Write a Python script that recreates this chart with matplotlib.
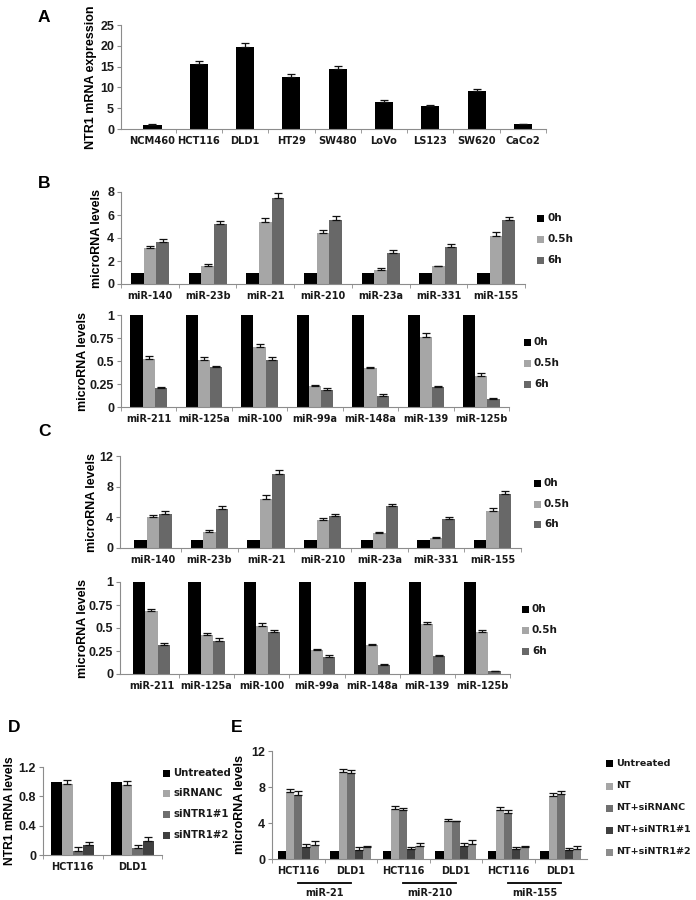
import numpy as np
import matplotlib.pyplot as plt
from matplotlib.patches import Rectangle

plt.rcParams['font.family'] = ['DejaVu Sans']
plt.rcParams['font.weight'] = 'bold'

# ---- data ----
cell_lines = ['NCM460', 'HCT116', 'DLD1', 'HT29', 'SW480', 'LoVo', 'LS123', 'SW620', 'CaCo2']
ntr1_expr = [1.0, 15.7, 19.6, 12.6, 14.5, 6.4, 5.5, 9.2, 1.1]
ntr1_err = [0.2, 0.7, 1.0, 0.7, 0.7, 0.5, 0.2, 0.4, 0.2]

time_labels = ['0h', '0.5h', '6h']
up_mirs = ['miR-140', 'miR-23b', 'miR-21', 'miR-210', 'miR-23a', 'miR-331', 'miR-155']
down_mirs = ['miR-211', 'miR-125a', 'miR-100', 'miR-99a', 'miR-148a', 'miR-139', 'miR-125b']

b_up_05 = [3.1, 1.6, 5.4, 4.45, 1.2, 1.55, 4.2]
b_up_6 = [3.65, 5.25, 7.5, 5.55, 2.7, 3.2, 5.55]
b_up_05_err = [0.2, 0.15, 0.35, 0.25, 0.15, 0.05, 0.3]
b_up_6_err = [0.25, 0.25, 0.4, 0.35, 0.25, 0.25, 0.3]

b_dn_05 = [0.52, 0.51, 0.65, 0.23, 0.42, 0.76, 0.34]
b_dn_6 = [0.21, 0.43, 0.51, 0.19, 0.12, 0.22, 0.09]
b_dn_05_err = [0.03, 0.03, 0.04, 0.01, 0.02, 0.04, 0.03]
b_dn_6_err = [0.01, 0.02, 0.03, 0.02, 0.02, 0.01, 0.01]

c_up_05 = [4.05, 2.15, 6.45, 3.7, 1.9, 1.3, 4.85]
c_up_6 = [4.45, 5.1, 9.7, 4.15, 5.45, 3.8, 7.1]
c_up_05_err = [0.25, 0.15, 0.4, 0.25, 0.25, 0.1, 0.4]
c_up_6_err = [0.35, 0.35, 0.45, 0.25, 0.25, 0.2, 0.35]

c_dn_05 = [0.68, 0.42, 0.52, 0.26, 0.31, 0.54, 0.46]
c_dn_6 = [0.32, 0.36, 0.46, 0.19, 0.10, 0.20, 0.03]
c_dn_05_err = [0.03, 0.03, 0.03, 0.01, 0.02, 0.02, 0.02]
c_dn_6_err = [0.02, 0.03, 0.02, 0.02, 0.005, 0.01, 0.005]

d_lines = ['HCT116', 'DLD1']
d_labels = ['Untreated', 'siRNANC', 'siNTR1#1', 'siNTR1#2']
d_vals = [[1.0, 1.0], [0.97, 0.96], [0.06, 0.10], [0.14, 0.19]]
d_err = [[0.0, 0.0], [0.05, 0.05], [0.05, 0.04], [0.04, 0.05]]

e_cats = ['HCT116', 'DLD1', 'HCT116', 'DLD1', 'HCT116', 'DLD1']
e_groups = ['miR-21', 'miR-210', 'miR-155']
e_labels = ['Untreated', 'NT', 'NT+siRNANC', 'NT+siNTR1#1', 'NT+siNTR1#2']
e_vals = [[0.9, 0.9, 0.9, 0.9, 0.9, 0.9],
          [7.5, 9.7, 5.6, 4.2, 5.5, 7.05],
          [7.15, 9.55, 5.4, 4.2, 5.15, 7.2],
          [1.35, 1.0, 1.15, 1.45, 1.1, 1.0],
          [1.6, 1.3, 1.4, 1.7, 1.3, 1.15]]
e_err = [[0, 0, 0, 0, 0, 0],
         [0.3, 0.35, 0.3, 0.2, 0.3, 0.3],
         [0.4, 0.35, 0.25, 0.05, 0.25, 0.4],
         [0.3, 0.3, 0.2, 0.35, 0.25, 0.25],
         [0.45, 0.2, 0.35, 0.45, 0.2, 0.35]]

W, H = 696, 900
fig = plt.figure(figsize=(W / 100, H / 100), dpi=100)
NUM_FONT = 'Liberation Sans'


def px_axes(l, t, r, b):
    return fig.add_axes([l / W, 1 - b / H, (r - l) / W, (b - t) / H])


def style_axes(ax, xlim, labels, fs, yfs=9):
    n = len(labels)
    for s in ['top', 'right']:
        ax.spines[s].set_visible(False)
    for s in ['left', 'bottom']:
        ax.spines[s].set_color('#8c8c8c')
    ax.set_xlim(*xlim)
    ax.set_xticks(range(n))
    ax.set_xticklabels(labels, fontsize=fs, fontweight='bold', color='#1a1a1a')
    ax.set_xticks(np.arange(-0.5, n, 1.0), minor=True)
    ax.tick_params(axis='x', which='major', length=0, pad=5)
    ax.tick_params(axis='x', which='minor', length=3, color='#8c8c8c')
    ax.tick_params(axis='y', length=3, color='#8c8c8c', pad=2)
    for t in ax.get_yticklabels():
        t.set_fontweight('bold')
        t.set_fontfamily(NUM_FONT)
        t.set_fontsize(yfs)
        t.set_color('#1a1a1a')


def ylabel_at(ax, text, xpix, fs=9):
    pos = ax.get_position()
    fig.text(xpix / W, pos.y0 + pos.height / 2, text, rotation=90, ha='center',
             va='center', fontsize=fs, fontweight='bold', family=NUM_FONT)


def legend_at(bars, labels, xpix, ypix_list, fs):
    for b, lab, yp in zip(bars, labels, ypix_list):
        sq = 7
        fig.add_artist(Rectangle((xpix / W, (H - yp - sq / 2) / H), sq / W, sq / H,
                                 transform=fig.transFigure,
                                 facecolor=b.patches[0].get_facecolor(), edgecolor='none'))
        fig.text((xpix + 10) / W, 1 - yp / H, lab, fontsize=fs, fontweight='bold',
                 ha='left', va='center', color='#1a1a1a')


def panel_letter(letter, xpix, ypix):
    fig.text(xpix / W, 1 - ypix / H, letter, fontsize=12.5, fontweight='bold',
             ha='center', va='center', family=NUM_FONT)


ekw = dict(ecolor='#111111', capsize=3, error_kw=dict(elinewidth=0.9, capthick=0.9))
time_colors = ['#000000', '#a6a6a6', '#686868']

# ---- panel A ----
axA = px_axes(121, 25, 546, 129)
x = np.arange(len(cell_lines))
axA.bar(x, ntr1_expr, 0.39, color='black', yerr=[np.zeros(len(x)), ntr1_err], **ekw)
axA.set_ylim(0, 25)
axA.set_yticks([0, 5, 10, 15, 20, 25])
style_axes(axA, (-0.68, 8.5), cell_lines, 7.1)
axA.set_xticks(np.arange(0.5, 9, 1.0), minor=True)
ylabel_at(axA, 'NTR1 mRNA expression', 91, 9)
panel_letter('A', 44, 17)


def time_panel(box, vals05, vals6, err05, err6, ylim, yticks, yticklabels):
    ax = px_axes(*box)
    n = len(vals05)
    x = np.arange(n)
    w = 0.22
    series = [np.ones(n), vals05, vals6]
    errs = [np.zeros(n), err05, err6]
    bars = []
    for i in range(3):
        b = ax.bar(x + (i - 1) * w, series[i], w, color=time_colors[i],
                   yerr=[np.zeros(n), errs[i]] if i > 0 else None, **ekw)
        bars.append(b)
    ax.set_ylim(*ylim)
    ax.set_yticks(yticks)
    ax.set_yticklabels(yticklabels)
    return ax, bars


axB1, bars = time_panel((121, 192, 525, 284), b_up_05, b_up_6, b_up_05_err, b_up_6_err,
                        (0, 8), [0, 2, 4, 6, 8], ['0', '2', '4', '6', '8'])
style_axes(axB1, (-0.5, 6.5), up_mirs, 7)
ylabel_at(axB1, 'microRNA levels', 97)
legend_at(bars, time_labels, 537, [218, 239, 260], 7.5)

axB2, bars = time_panel((121, 315, 509, 407), b_dn_05, b_dn_6, b_dn_05_err, b_dn_6_err,
                        (0, 1), [0, 0.25, 0.5, 0.75, 1], ['0', '0.25', '0.5', '0.75', '1'])
style_axes(axB2, (-0.5, 6.5), down_mirs, 7)
ylabel_at(axB2, 'microRNA levels', 83)
legend_at(bars, time_labels, 524, [342, 363, 384], 7.5)
panel_letter('B', 44, 183)

axC1, bars = time_panel((120, 456, 521, 548), c_up_05, c_up_6, c_up_05_err, c_up_6_err,
                        (0, 12), [0, 4, 8, 12], ['0', '4', '8', '12'])
style_axes(axC1, (-0.58, 6.5), up_mirs, 7)
axC1.set_xticks(np.arange(0.5, 7, 1.0), minor=True)
ylabel_at(axC1, 'microRNA levels', 92)
legend_at(bars, time_labels, 534, [483, 504, 524], 7.5)

axC2, bars = time_panel((120, 582, 510, 674), c_dn_05, c_dn_6, c_dn_05_err, c_dn_6_err,
                        (0, 1), [0, 0.25, 0.5, 0.75, 1], ['0', '0.25', '0.5', '0.75', '1'])
style_axes(axC2, (-0.57, 6.5), down_mirs, 7)
axC2.set_xticks(np.arange(0.5, 7, 1.0), minor=True)
ylabel_at(axC2, 'microRNA levels', 83)
legend_at(bars, time_labels, 522, [609, 630, 651], 7.5)
panel_letter('C', 44, 432)

# ---- panel D ----
axD = px_axes(43, 767, 162, 855)
d_colors = ['#000000', '#a6a6a6', '#6e6e6e', '#404040']
x = np.arange(len(d_lines))
w = 0.18
bars = []
for i in range(4):
    b = axD.bar(x + (i - 1.5) * w, d_vals[i], w, color=d_colors[i],
                yerr=[np.zeros(len(x)), d_err[i]] if i > 0 else None, **ekw)
    bars.append(b)
axD.set_ylim(0, 1.2)
axD.set_yticks([0, 0.4, 0.8, 1.2])
axD.set_yticklabels(['0', '0.4', '0.8', '1.2'])
style_axes(axD, (-0.5, 1.5), d_lines, 7)
ylabel_at(axD, 'NTR1 mRNA levels', 10, 8.7)
legend_at(bars, d_labels, 163, [773, 793, 814, 835], 7.3)
panel_letter('D', 14, 727)

# ---- panel E ----
axE = px_axes(272, 751, 587, 859)
e_colors = ['#000000', '#a6a6a6', '#707070', '#404040', '#8c8c8c']
x = np.arange(len(e_cats))
w = 0.155
bars = []
for i in range(5):
    b = axE.bar(x + (i - 2) * w, e_vals[i], w, color=e_colors[i],
                yerr=[np.zeros(len(x)), e_err[i]] if i > 0 else None, **ekw)
    bars.append(b)
axE.set_ylim(0, 12)
axE.set_yticks([0, 4, 8, 12])
axE.set_yticklabels(['0', '4', '8', '12'])
style_axes(axE, (-0.5, 5.3), e_cats, 7)
axE.set_xticks(np.arange(-0.5, 5.5, 1.0), minor=True)
ylabel_at(axE, 'microRNA levels', 240)
legend_at(bars, e_labels, 606, [763, 786, 808, 830, 852], 6.8)
tr = axE.get_xaxis_transform()
for g, name in enumerate(e_groups):
    axE.plot([2 * g, 2 * g + 1], [-0.222, -0.222], color='black', lw=1.3,
             clip_on=False, transform=tr)
    axE.text(2 * g + 0.5, -0.315, name, fontsize=7, fontweight='bold',
             ha='center', va='center', transform=tr, color='#1a1a1a')
panel_letter('E', 237, 728)

fig.savefig('out.png', dpi=100)
